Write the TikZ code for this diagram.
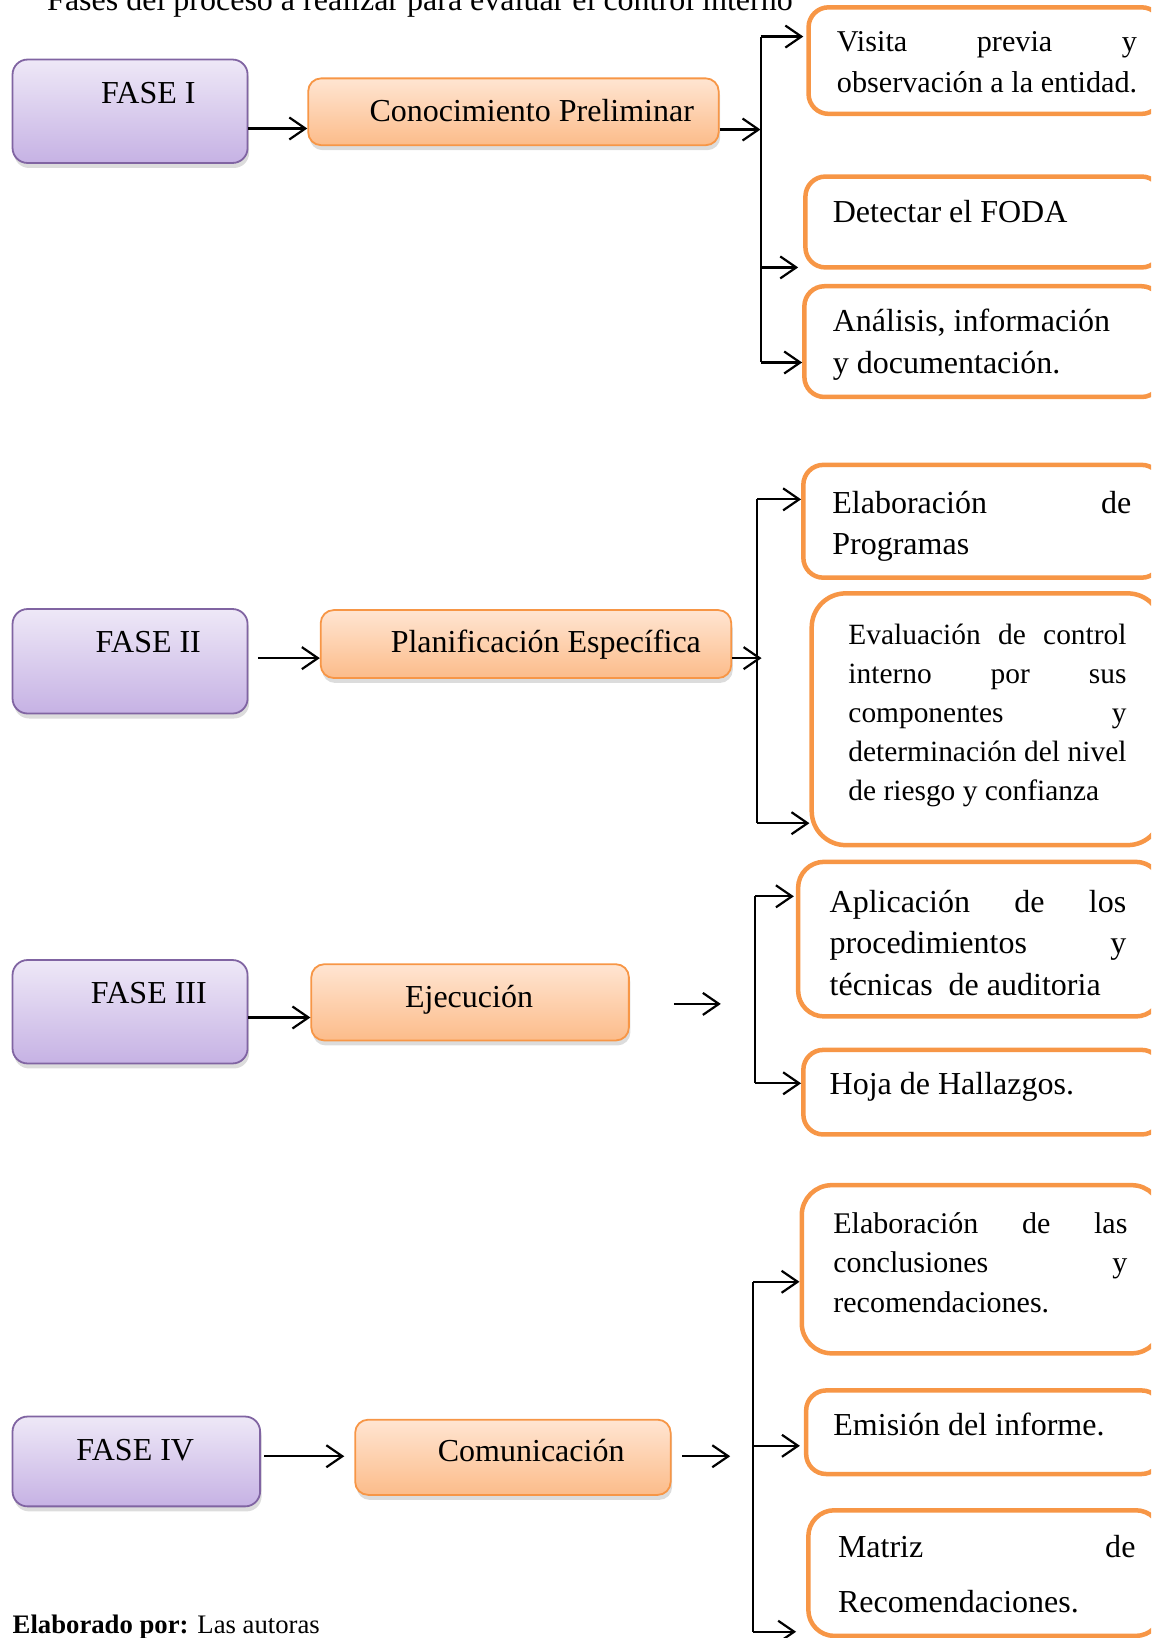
\documentclass[tikz,border=0pt]{standalone}
\usepackage{fontspec}
\setmainfont{Liberation Serif}
\usetikzlibrary{arrows.meta,shadows,fit}
\definecolor{pborder}{RGB}{128,100,162}
\definecolor{ptop}{RGB}{238,232,247}
\definecolor{pbot}{RGB}{198,178,228}
\definecolor{oborder}{RGB}{247,150,70}
\definecolor{otop}{RGB}{255,229,210}
\definecolor{obot}{RGB}{252,188,138}
\newcommand\mystrut{\rule{0pt}{40pt}}
\newcommand\fs[2]{\fontsize{#1}{#2}\selectfont}
\begin{document}
\begin{tikzpicture}[x=1.0445pt,y=-1.0445pt,
  shad/.style={drop shadow={shadow xshift=1.5pt,shadow yshift=-5pt,opacity=.28}},
  fase/.style={draw=pborder, line width=1.8pt, rounded corners=15pt, top color=ptop, bottom color=pbot, inner sep=0pt, shad},
  mid/.style={draw=oborder, line width=1.8pt, rounded corners=13pt, top color=otop, bottom color=obot, inner sep=0pt, shad},
  item/.style={draw=oborder, line width=4.5pt, rounded corners=20pt, fill=white, inner sep=0pt},
  lbl/.style={anchor=base, inner sep=0pt, font=\fs{32}{40}},
  tx/.style={anchor=north west, inner sep=0pt, yshift=40pt, align=left, font=\fs{32}{41.8}},
  arr/.style={line width=2.2pt, -{Straight Barb[length=16pt,width=22pt,line width=2.2pt]}},
  ln/.style={line width=2pt}
]
\useasboundingbox (0,0) rectangle (1102,1568);
\clip (0,0) rectangle (1102,1568);

% title and footer
\node[anchor=base west, inner sep=0pt, font=\fs{32}{40}] (title) at (45,10.5) {Fases del proceso a realizar para evaluar el control interno};
\node[anchor=base west, inner sep=0pt, font=\fs{26.7}{32}] (foot) at (12,1564) {\textbf{Elaborado por:} Las autoras};

% ---------- group 1
\node[fase, fit={(12,57)(237,156)}] (F1) {};
\node[lbl] (F1t) at (142,99) {FASE I};
\node[mid, fit={(295,75)(688,139)}] (C1) {};
\node[lbl] (C1t) at (509,116.5) {Conocimiento Preliminar};
\node[item, fit={(774,7)(1112,109)}] (V1) {};
\node[tx, font=\fs{30.2}{40.7}] (V1t) at (801,49.5) {\mystrut\makebox[300pt][s]{Visita previa y}\\observación a la entidad.};
\node[item, fit={(771,169)(1112,256)}] (D1) {};
\node[tx] (D1t) at (797,213) {\mystrut Detectar el FODA};
\node[item, fit={(770,274)(1112,380)}] (A1) {};
\node[tx] (A1t) at (797,317.5) {\mystrut Análisis, información\\y documentación.};

\coordinate (y1a) at (0,123);
\coordinate (b1t) at (728,35);
\coordinate (b1m) at (728,124);
\coordinate (b1d) at (728,256);
\coordinate (b1b) at (728,347);
\draw[ln] (b1t) -- (b1b);
\draw[arr] (F1.east |- y1a) -- (C1.west |- y1a);
\draw[arr] (C1.east |- b1m) -- (b1m);
\draw[arr] (b1t) -- ([xshift=-3pt]V1.west |- b1t);
\draw[arr] (b1d) -- ([xshift=-5pt]D1.west |- b1d);
\draw[arr] (b1b) -- (A1.west |- b1b);

% ---------- group 2
\node[fase, fit={(12,583)(237,683)}] (F2) {};
\node[lbl] (F2t) at (142,625) {FASE II};
\node[mid, fit={(307,584)(700,649)}] (P2) {};
\node[lbl] (P2t) at (522.5,625) {Planificación Específica};
\node[item, fit={(769,445)(1112,553)}] (E2) {};
\node[tx] (E2t) at (796.6,491) {\mystrut\makebox[299pt][s]{Elaboración de}\\Programas};
\node[item, rounded corners=34pt, fit={(777,568)(1112,809)}] (V2) {};
\node[tx, font=\fs{29.4}{38.9}] (V2t) at (812,617) {\mystrut\makebox[278pt][s]{Evaluación de control}\\\makebox[278pt][s]{interno por sus}\\\makebox[278pt][s]{componentes y}\\\makebox[278pt][s]{determinación del nivel}\\de riesgo y confianza};

\coordinate (y2a) at (0,630);
\coordinate (b2t) at (725,478);
\coordinate (b2m) at (729,630);
\coordinate (b2b) at (725,788);
\draw[ln] (b2t) -- (b2b);
\draw[arr] ([xshift=9.4pt]F2.east |- y2a) -- (P2.west |- y2a);
\draw[arr] (P2.east |- b2m) -- (b2m);
\draw[arr] (b2t) -- (E2.west |- b2t);
\draw[arr] (b2b) -- (V2.west |- b2b);

% ---------- group 3
\node[fase, fit={(12,919)(237,1018)}] (F3) {};
\node[lbl] (F3t) at (142.5,961) {FASE III};
\node[mid, fit={(298,923)(602,996)}] (X3) {};
\node[lbl] (X3t) at (449,964) {Ejecución};
\node[item, rounded corners=26pt, fit={(764,825)(1112,973)}] (P3) {};
\node[tx, font=\fs{32}{41.6}] (P3t) at (794,873) {\mystrut\makebox[296.6pt][s]{Aplicación de los}\\\makebox[296.6pt][s]{procedimientos y}\\técnicas\ \ de auditoria};
\node[item, fit={(769,1005)(1112,1086)}] (H3) {};
\node[tx] (H3t) at (794,1048) {\mystrut Hoja de Hallazgos.};

\coordinate (y3a) at (0,974);
\coordinate (f3a) at (645,961);
\coordinate (f3b) at (690,961);
\coordinate (b3t) at (723,858);
\coordinate (b3b) at (723,1037);
\draw[ln] (b3t) -- (b3b);
\draw[arr] (F3.east |- y3a) -- (X3.west |- y3a);
\draw[arr] (f3a) -- (f3b);
\draw[arr] (b3t) -- ([xshift=-2pt]P3.west |- b3t);
\draw[arr] (b3b) -- (H3.west |- b3b);

% ---------- group 4
\node[fase, fit={(12,1356)(249,1442)}] (F4) {};
\node[lbl] (F4t) at (129.5,1398) {FASE IV};
\node[mid, fit={(340,1359)(642,1431)}] (M4c) {};
\node[lbl] (M4ct) at (508.5,1399) {Comunicación};
\node[item, rounded corners=30pt, fit={(767.5,1134.5)(1112,1295.5)}] (L4) {};
\node[tx, font=\fs{30}{39.3}] (L4t) at (797.6,1180.6) {\mystrut\makebox[294pt][s]{Elaboración de las}\\\makebox[294pt][s]{conclusiones y}\\recomendaciones.};
\node[item, fit={(771.7,1331)(1112,1411)}] (S4) {};
\node[tx] (S4t) at (797.6,1374) {\mystrut Emisión del informe.};
\node[item, rounded corners=26pt, fit={(773.8,1445.7)(1112,1566)}] (R4) {};
\node[tx, font=\fs{32}{55}] (R4t) at (802,1490.4) {\mystrut\makebox[297.4pt][s]{Matriz de}\\Recomendaciones.};

\coordinate (y4a) at (0,1394);
\coordinate (f4a) at (653,1394);
\coordinate (f4b) at (699,1394);
\coordinate (b4t) at (721,1227);
\coordinate (b4m) at (721,1384);
\coordinate (b4b) at (721,1562);
\draw[ln] (b4t) -- (b4b);
\draw[arr] ([xshift=3pt]F4.east |- y4a) -- ([xshift=-10pt]M4c.west |- y4a);
\draw[arr] (f4a) -- (f4b);
\draw[arr] (b4t) -- (L4.west |- b4t);
\draw[arr] (b4m) -- ([xshift=-4pt]S4.west |- b4m);
\draw[arr] (b4b) -- ([xshift=-10pt]R4.west |- b4b);
\end{tikzpicture}
\end{document}
